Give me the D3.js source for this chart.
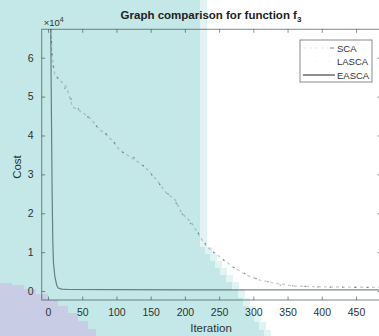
<!DOCTYPE html>
<html><head><meta charset="utf-8">
<script src="https://cdn.jsdelivr.net/npm/d3@7/dist/d3.min.js"></script>
<style>html,body{margin:0;padding:0;background:#fff;}svg{display:block;font-family:"Liberation Sans",Arial,sans-serif;}</style>
</head><body>
<script>
// ---- data (cost values in units of 1e4) ----
const xTicks = [0, 50, 100, 150, 200, 250, 300, 350, 400, 450];
const yTicks = [0, 1, 2, 3, 4, 5, 6];
const seriesNames = ["SCA", "LASCA", "EASCA"];
const scaIter = [1, 4, 5.5, 7.7, 10, 27, 36, 49, 61, 76, 86, 95, 105, 120, 134, 146, 159, 173, 186, 195, 210, 222, 232, 251, 270, 290, 310, 329, 358, 393, 440, 485];
const scaCost = [9.5, 7.0, 6.2, 5.81, 5.55, 5.25, 4.73, 4.61, 4.45, 4.14, 4.01, 3.84, 3.62, 3.45, 3.29, 3.11, 2.85, 2.52, 2.34, 2.01, 1.75, 1.40, 1.14, 0.88, 0.62, 0.41, 0.28, 0.21, 0.13, 0.11, 0.10, 0.095];
const lascaIter = [1, 4, 6, 9, 20, 40, 60, 76, 86, 95, 110, 130, 150, 170, 186, 195, 205, 215, 225, 235, 250, 270, 300, 340, 400, 485];
const lascaCost = [9.0, 6.9, 6.0, 5.6, 5.35, 4.75, 4.45, 4.14, 4.03, 3.86, 3.55, 3.40, 3.02, 2.60, 2.30, 2.00, 1.80, 1.60, 1.36, 1.08, 0.88, 0.62, 0.34, 0.15, 0.10, 0.09];
const eascaIter = [1, 3, 4, 5, 6, 7, 8, 10, 12.7, 15, 20, 30, 100, 200, 300, 400, 485];
const eascaCost = [12, 8.5, 6.8, 4.6, 2.6, 1.3, 0.72, 0.38, 0.15, 0.08, 0.05, 0.04, 0.035, 0.03, 0.03, 0.03, 0.03];

const W = 379, H = 336;
const svg = d3.select("body").append("svg").attr("width", W).attr("height", H);

// ---- scanned-background tint (decoration) ----
const tealEdge = [[0,200],[240,200],[247,205],[254,210],[261,215],[268,220],[275,226],[282,232],[290,238],[298,243],[306,249],[314,254],[322,259],[330,264],[336,267]];
function stairPoly(edge, dx) {
  const pts = [[0,0]];
  edge.forEach(([y,x],i) => { if (i>0) pts.push([edge[i-1][1]+dx, y]); pts.push([x+dx, y]); });
  pts.push([0, H]);
  return pts;
}
svg.append("polygon").attr("points", stairPoly(tealEdge, 7).map(p=>p.join(",")).join(" ")).attr("fill", "#e2f3f3");
svg.append("polygon").attr("points", stairPoly(tealEdge, 0).map(p=>p.join(",")).join(" ")).attr("fill", "#c4e8e7");
const lavEdge = [[0,283],[12,285],[24,289],[36,294],[48,300],[58,306],[68,313],[78,321],[88,329],[96,336]];
const lavPts = [];
lavEdge.forEach(([x,y],i)=>{ if(i>0) lavPts.push([x, lavEdge[i-1][1]]); lavPts.push([x,y]); });
lavPts.push([0,H]);
svg.append("polygon").attr("points", lavPts.map(p=>p.join(",")).join(" ")).attr("fill", "#c8cce5");

// ---- scales ----
const L = 41.7, R = 381, T = 29.3, B = 300;
const x = d3.scaleLinear().domain([-9.2, 486.5]).range([L, R]);
const y = d3.scaleLinear().domain([-0.23, 6.73]).range([B, T]);

const axisCol = "rgba(40,60,60,0.55)";
const textCol = "#2b3333";

svg.append("defs").append("clipPath").attr("id","clip").append("rect")
  .attr("x", L).attr("y", T).attr("width", R-L).attr("height", B-T);

// ---- axes with inward ticks (MATLAB box) ----
const tl = 3.5;
const gx = svg.append("g").attr("transform", `translate(0,${B})`)
  .call(d3.axisBottom(x).tickValues(xTicks).tickSize(-tl).tickPadding(9).tickFormat(d3.format("d")));
const gxt = svg.append("g").attr("transform", `translate(0,${T})`)
  .call(d3.axisTop(x).tickValues(xTicks).tickSize(-tl).tickFormat(""));
const gy = svg.append("g").attr("transform", `translate(${L},0)`)
  .call(d3.axisLeft(y).tickValues(yTicks).tickSize(-tl).tickPadding(8).tickFormat(d3.format("d")));
const gyr = svg.append("g").attr("transform", `translate(${R},0)`)
  .call(d3.axisRight(y).tickValues(yTicks).tickSize(-tl).tickFormat(""));
[gx,gxt,gy,gyr].forEach(g => {
  g.selectAll(".domain").remove();
  g.selectAll(".tick line").attr("stroke", axisCol);
  g.selectAll(".tick text").attr("fill", textCol).attr("font-size", 10.5).attr("font-family", "Liberation Sans, Arial, sans-serif");
});
svg.append("rect").attr("x", L).attr("y", T).attr("width", R-L).attr("height", B-T)
  .attr("fill", "none").attr("stroke", axisCol).attr("stroke-width", 1.1);

// ---- lines ----
const line = d3.line().x(d => x(d[0])).y(d => y(d[1]));
const plot = svg.append("g").attr("clip-path", "url(#clip)");
const sca = scaIter.map((v,i)=>[v, scaCost[i]]);
const lasca = lascaIter.map((v,i)=>[v, lascaCost[i]]);
const easca = eascaIter.map((v,i)=>[v, eascaCost[i]]);
const styles = {
  SCA:   {stroke: "rgba(100,110,110,0.32)", width: 1.4, dash: "3,3"},
  LASCA: {stroke: "rgba(30,50,50,0.5)", width: 1.1, dash: "1.5,11"},
  EASCA: {stroke: "rgba(40,65,65,0.62)", width: 1.2, dash: null}
};
plot.append("path").datum(sca).attr("d", line).attr("fill","none")
  .attr("stroke", styles.SCA.stroke).attr("stroke-width", styles.SCA.width).attr("stroke-dasharray", styles.SCA.dash);
plot.append("path").datum(lasca).attr("d", line).attr("fill","none")
  .attr("stroke", styles.LASCA.stroke).attr("stroke-width", styles.LASCA.width).attr("stroke-dasharray", styles.LASCA.dash);
plot.append("path").datum(easca).attr("d", line).attr("fill","none")
  .attr("stroke", styles.EASCA.stroke).attr("stroke-width", styles.EASCA.width);

// ---- exponent label ----
const ex = svg.append("text").attr("x", L+2).attr("y", 26).attr("fill", textCol).attr("font-size", 9.5);
ex.append("tspan").text("×10");
ex.append("tspan").attr("dy", -4).attr("font-size", 7).text("4");

// ---- title ----
const title = svg.append("text").attr("x", 211).attr("y", 19).attr("text-anchor","middle")
  .attr("font-weight","bold").attr("font-size", 11.5).attr("fill", "#222");
title.append("tspan").text("Graph comparison for function f");
title.append("tspan").attr("dy", 3).attr("font-size", 8).text("3");

// ---- axis labels ----
svg.append("text").attr("x", 211).attr("y", 332).attr("text-anchor","middle")
  .attr("font-size", 11.5).attr("fill", textCol).text("Iteration");
svg.append("text").attr("transform", "translate(21,167) rotate(-90)").attr("text-anchor","middle")
  .attr("font-size", 11.5).attr("fill", textCol).text("Cost");

// ---- legend ----
const lg = svg.append("g");
lg.append("rect").attr("x", 300).attr("y", 40).attr("width", 72).attr("height", 42)
  .attr("fill", "#fff").attr("stroke", "#8a8a8a").attr("stroke-width", 1);
seriesNames.forEach((name, i) => {
  const yy = 48 + i * 13.5;
  const s = styles[name];
  lg.append("line").attr("x1", 303).attr("x2", 335).attr("y1", yy).attr("y2", yy)
    .attr("stroke", name === "SCA" ? "rgba(100,105,105,0.1)" : (name === "LASCA" ? "rgba(30,50,50,0.06)" : "#444"))
    .attr("stroke-width", s.width).attr("stroke-dasharray", s.dash);
  if (name === "SCA") lg.append("line").attr("x1", 330).attr("x2", 334).attr("y1", yy).attr("y2", yy).attr("stroke", "#888");
  lg.append("text").attr("x", 337).attr("y", yy + 3.5).attr("font-size", 9.5).attr("fill", "#333").text(name);
});
</script>
</body></html>
